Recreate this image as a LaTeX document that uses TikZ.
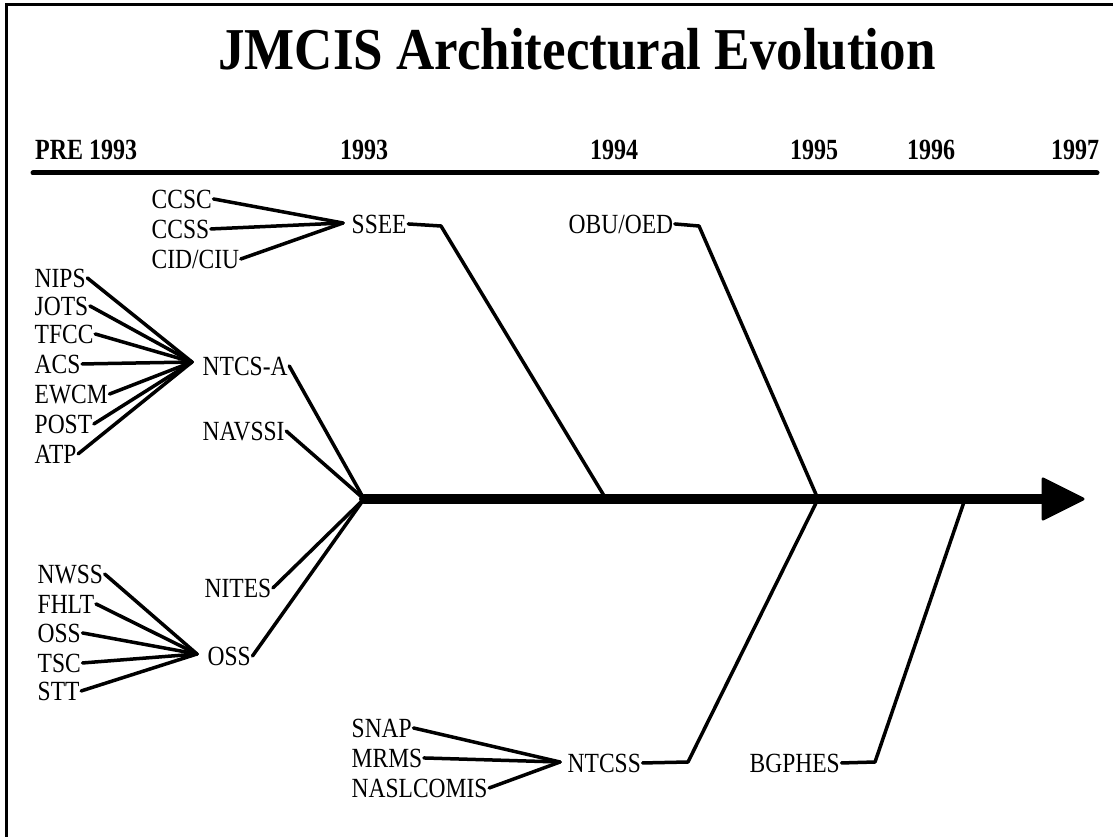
\documentclass[tikz,border=0pt]{standalone}
\usepackage{fontspec}
\setmainfont{Liberation Serif}
\usepackage{graphicx}
\begin{document}
\begin{tikzpicture}[x=1pt,y=-1pt,
  lbl/.style={anchor=base west, inner sep=1.5pt, font=\fontsize{23.5}{23.5}\selectfont, xscale=1.0, yscale=1.18, transform shape},
  yr/.style={anchor=base west, inner sep=0pt, font=\bfseries\fontsize{24}{24}\selectfont, yscale=1.22, transform shape},
  conn/.style={line width=3.5pt, line cap=round, line join=round},
  mainline/.style={line width=10pt, line cap=round},
  rule/.style={line width=5pt, line cap=round},
  frame/.style={line width=3pt}]
\useasboundingbox (0,0) rectangle (1113,837);
% frame
\coordinate (fbl) at (6,837);
\coordinate (ftl) at (6,5);
\coordinate (ftr) at (1113,5);
\draw[frame] (fbl) -- (ftl) -- (ftr);
% title
\node[inner sep=0pt, font=\bfseries\fontsize{53}{53}\selectfont] (title) at (577,49) {\scalebox{1}[1.12]{JMCIS Architectural Evolution}};
% years
\node[yr] (ypre) at (35,160) {PRE 1993};
\node[yr] (y93) at (340,160) {1993};
\node[yr] (y94) at (590,160) {1994};
\node[yr] (y95) at (790,160) {1995};
\node[yr] (y96) at (907,160) {1996};
\node[yr] (y97) at (1051,160) {1997};
\coordinate (rl) at (33,173);
\coordinate (rr) at (1097,173);
\draw[rule] (rl) -- (rr);
% SSEE group
\node[lbl] (ccsc) at (150,208) {CCSC};
\node[lbl] (ccss) at (150,238) {CCSS};
\node[lbl] (cid) at (150,268) {CID/CIU};
\node[lbl] (ssee) at (350,233) {SSEE};
\coordinate (jS) at (343,223);
\draw[conn] (ccsc.east) -- (jS);
\draw[conn] (ccss.east) -- (jS);
\draw[conn] (cid.east) -- (jS);
% NTCS-A group
\node[lbl] (nips) at (33,287) {NIPS};
\node[lbl] (jots) at (33,315) {JOTS};
\node[lbl] (tfcc) at (33,343) {TFCC};
\node[lbl] (acs) at (33,373) {ACS};
\node[lbl] (ewcm) at (33,403) {EWCM};
\node[lbl] (post) at (33,433) {POST};
\node[lbl] (atp) at (33,463) {ATP};
\node[lbl] (ntcsa) at (201,375) {NTCS-A};
\node[lbl] (navssi) at (201,440) {NAVSSI};
\coordinate (jN) at (192,362);
\foreach \n in {nips,jots,tfcc,acs,ewcm,post,atp} \draw[conn] (\n.east) -- (jN);
% OSS group
\node[lbl] (nwss) at (36,583) {NWSS};
\node[lbl] (fhlt) at (36,613) {FHLT};
\node[lbl] (ossl) at (36,642) {OSS};
\node[lbl] (tsc) at (36,672) {TSC};
\node[lbl] (stt) at (36,700) {STT};
\node[lbl] (nites) at (203,597) {NITES};
\node[lbl] (oss) at (206,665) {OSS};
\coordinate (jO) at (197,654);
\foreach \n in {nwss,fhlt,ossl,tsc,stt} \draw[conn] (\n.east) -- (jO);
% NTCSS group
\node[lbl] (snap) at (350,737) {SNAP};
\node[lbl] (mrms) at (350,767) {MRMS};
\node[lbl] (nasl) at (350,797) {NASLCOMIS};
\node[lbl] (ntcss) at (566,772) {NTCSS};
\node[lbl] (bgphes) at (748,772) {BGPHES};
\coordinate (jT) at (560,762);
\foreach \n in {snap,mrms,nasl} \draw[conn] (\n.east) -- (jT);
% OBU/OED
\node[lbl] (obu) at (567,233) {OBU/OED};
% main line
\coordinate (jM) at (364,499);
\coordinate (ab) at (1046,499);
\coordinate (h1) at (606,499);
\coordinate (h2) at (818,499);
\coordinate (h3) at (965,499);
\draw[mainline] (jM) -- (ab);
\coordinate (at1) at (1043,479);
\coordinate (at2) at (1083,499);
\coordinate (at3) at (1043,519);
\filldraw[line width=3pt, line join=round] (at1) -- (at2) -- (at3) -- cycle;
% branches into main line
\draw[conn] (ntcsa.east) -- (jM);
\draw[conn] (navssi.east) -- (jM);
\draw[conn] (nites.east) -- (jM);
\draw[conn] (oss.east) -- (jM);
\coordinate (bS) at (441,226);
\draw[conn] (ssee.east) -- (bS) -- (h1);
\coordinate (bO) at (699,226);
\draw[conn] (obu.east) -- (bO) -- (h2);
\coordinate (bT) at (688,762);
\draw[conn] (ntcss.east) -- (bT) -- (h2);
\coordinate (bB) at (875,762);
\draw[conn] (bgphes.east) -- (bB) -- (h3);
\end{tikzpicture}
\end{document}
